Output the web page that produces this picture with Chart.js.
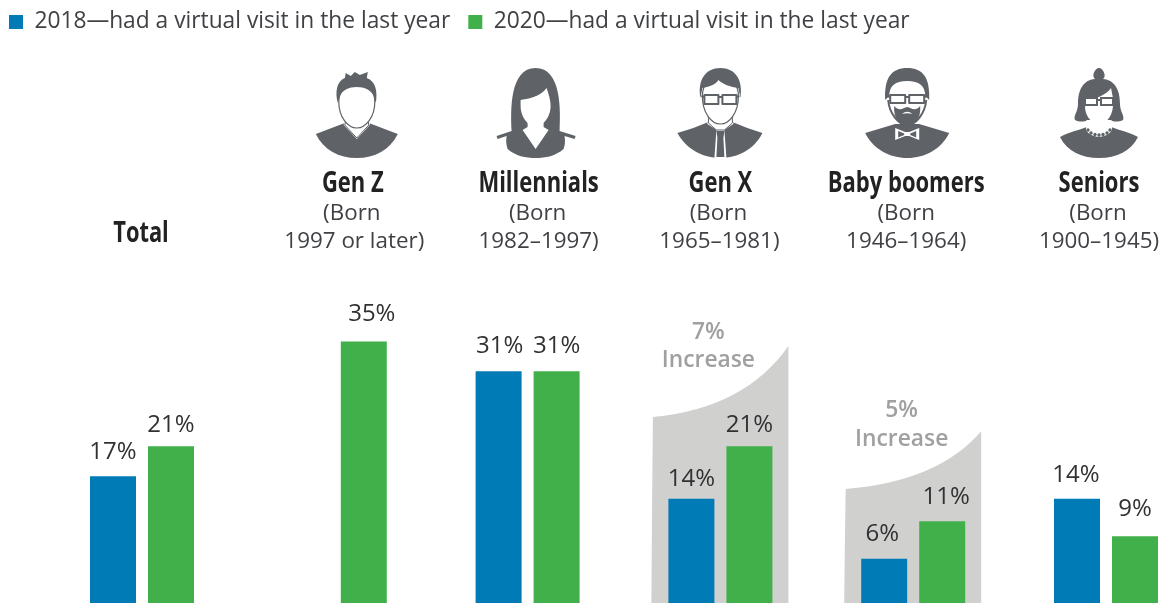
<!DOCTYPE html>
<html><head><meta charset="utf-8">
<script src="https://cdn.jsdelivr.net/npm/chart.js@4/dist/chart.umd.min.js"></script>
<style>html,body{margin:0;padding:0;background:#fff;overflow:hidden}#w{width:1163px;height:603px;overflow:hidden}canvas{display:block}</style>
</head><body><div id="w"><canvas id="c" width="1203" height="604"></canvas></div>
<script>
const categories = ['Total','Gen Z','Millennials','Gen X','Baby boomers','Seniors'];
const bornLine1 = ['', '(Born','(Born','(Born','(Born','(Born'];
const bornLine2 = ['', '1997 or later)','1982–1997)','1965–1981)','1946–1964)','1900–1945)'];
const seriesNames = ['2018—had a virtual visit in the last year','2020—had a virtual visit in the last year'];
const values2018 = [17,null,31,14,6,14];
const values2020 = [21,35,31,21,11,9];
const bandCategories = [3,4];
const bandLeftValues = [24.9,15.3];
const bandRightValues = [34.4,23];

const BLUE='#007bb6', GREEN='#41b04a', GREY='#5f6368', BAND='#d0d0cf', SUB='#3f4144', LABEL='#303133';
const OPEN='"Open Sans"';

const titleDx=[-1,18,11,0,-7,-7];
const line2Dx=[0,19.5,11,-1,-7,-7];
const line1Dx=[0,17,10,-2,-7,-8];
const iconDx=[0,22,8,0,-6,-7];
const lift=[[17,0,18,13,18,17],[14,20,18,14,17,20]];
const labelDx=[[0,0,1,0,-2,-1],[0,8,0,0,4,0]];

function P(s){return new Path2D(s);}
const SH='M-41 134 C-31 130 -22 127 -12 123 L12 123 C22 127 31 130 41 134 C33 150 18 158 0 158 C-18 158 -33 150 -41 134Z';
function fill(c,s,col){c.fillStyle=col;c.fill(P(s));}
function line(c,s,col,w){c.strokeStyle=col;c.lineWidth=w;c.lineJoin='round';c.stroke(P(s));}
function glasses(c,y,w,h){
  c.fillStyle='#fff';c.strokeStyle=GREY;c.lineWidth=2;
  c.beginPath();c.rect(-w-2,y,w,h);c.rect(2,y,w,h);c.fill();c.stroke();
  c.beginPath();c.moveTo(-2,y+2);c.lineTo(2,y+2);c.moveTo(-w-2,y+2);c.lineTo(-w-5,y+1);c.moveTo(w+2,y+2);c.lineTo(w+5,y+1);c.stroke();
}
const icons=[
 null,
 function(c){ // Gen Z
  fill(c,SH,GREY);
  fill(c,'M-13 120 L-13 125 L0 139 L13 125 L13 120Z','#fff');
  line(c,'M-11 120 L-12 125 L0 138 L12 125 L11 120',GREY,1);
  const f='M-18 102 C-18 117 -9 128 0 128 C9 128 18 117 18 102 C18 76 -18 76 -18 102Z';
  fill(c,f,'#fff');line(c,f,GREY,1.2);
  fill(c,'M-19 103 C-22 92 -20 81 -12 78 L-11 73 L-6 76 L-2 72 L3 75 L11 72 L10 78 C19 81 21 92 19 103 L17 96 C14 90 8 87 0 87 C-8 87 -14 90 -17 96Z',GREY);
 },
 function(c){ // Millennials
  fill(c,'M-39 136 L-24 131 C-25 110 -26 68 0 68 C26 68 25 110 24 131 L40 136 L39 139 L29 136 C30 142 29 146 28 149 C20 156 10 158 0 158 C-10 158 -20 156 -28 149 C-29 146 -30 142 -29 136 L-38 139Z',GREY);
  fill(c,'M-8 120 L8 120 L8 127 L13 130 L0 149 L-13 130 L-8 127Z','#fff');
  const f='M-15 100 C-9 99 5 97 11 88 C13 94 15 100 15 106 C15 118 6 127 0 127 C-6 127 -15 118 -15 106Z';
  fill(c,f,'#fff');
 },
 function(c){ // Gen X
  fill(c,'M-43 133 C-32 130 -22 126 -12 122 L12 122 C22 126 32 130 42 133 C34 149 18 158 0 158 C-18 158 -34 149 -43 133Z',GREY);
  fill(c,'M-13 118 L-13 124 L-4 130 L-6 158 L6 158 L4 130 L13 124 L13 118Z','#fff');
  fill(c,'M-4 131 L4 131 L3 138 L4 157 L-4 157 L-3 138Z',GREY);
  line(c,'M-12 116 L-12 123 L-4 130 L4 130 L12 123 L12 116',GREY,1);
  const f='M-18 96 C-18 113 -9 124 0 124 C9 124 18 113 18 96 C18 70 -18 70 -18 96Z';
  fill(c,f,'#fff');line(c,f,GREY,1.2);
  fill(c,'M-20 98 C-23 80 -15 68 0 68 C15 68 23 80 20 98 L18 88 C10 87 2 84 -2 80 C-5 85 -12 87 -18 88Z',GREY);
  glasses(c,95,14,9);
 },
 function(c){ // Baby boomers
  fill(c,'M-42 133 C-32 130 -22 127 -12 124 L12 124 C22 127 32 130 42 133 C34 149 18 158 0 158 C-18 158 -34 149 -42 133Z',GREY);
  const f='M-19 92 C-19 113 -9 124 0 124 C9 124 19 113 19 92 C19 75 -19 75 -19 92Z';
  fill(c,f,'#fff');
  fill(c,'M-22 100 C-23 78 -16 68 0 68 C16 68 23 78 22 100 L18 96 C18 86 12 81 0 81 C-12 81 -18 86 -18 96Z',GREY);
  fill(c,'M-13 106 C-8 112 -4 108 0 107 C4 108 8 112 13 106 C14 118 8 125 0 125 C-8 125 -14 118 -13 106Z',GREY);
  fill(c,'M-5 114 C-2 111 2 111 5 114 C2 113 -2 113 -5 114Z','#fff');
  line(c,'M-19 100 C-18 114 -8 125 0 125 C8 125 18 114 19 100',GREY,2);
  fill(c,'M-12 128 L-2 132 L2 132 L12 128 L12 140 L2 136 L-2 136 L-12 140Z','#fff');
  fill(c,'M-9 131 L-3 133.5 L-3 135 L-9 137.5Z',GREY);fill(c,'M9 131 L3 133.5 L3 135 L9 137.5Z',GREY);
  glasses(c,95,15,8);
 },
 function(c){ // Seniors
  fill(c,'M-39 137 C-30 132 -20 130 -12 127 L12 127 C20 130 30 132 39 137 C32 151 18 158 0 158 C-18 158 -32 151 -39 137Z',GREY);
  fill(c,'M-13 121 L-13 130 C-8 139 8 139 13 130 L13 121Z','#fff');
  fill(c,'M-4 79 C-8 76 -4 68 0 68 C4 68 8 76 4 79 C16 80 21 90 21 104 C21 112 26 116 24 120 C20 122 14 122 12 120 L-12 120 C-14 122 -20 122 -24 120 C-26 116 -21 112 -21 104 C-21 90 -16 80 -4 79Z',GREY);
  fill(c,'M-13 100 C-6 100 8 95 12 88 C13 94 15 100 14 106 C13 118 6 124 0 124 C-6 124 -13 118 -14 108Z','#fff');
  glasses(c,98,12,7);
  c.fillStyle=GREY;
  for(const d of [[-11,130],[-8,133],[-4,134.5],[0,135],[4,134.5],[8,133],[11,130]]){c.beginPath();c.arc(d[0],d[1],1.7,0,6.3);c.fill();}
 }
];

function text(c,s,x,y,font,col,sx){
  c.save();c.font=font;c.fillStyle=col;c.textAlign='center';c.textBaseline='alphabetic';
  c.translate(x,y);if(sx)c.scale(sx,1);c.fillText(s,0,0);c.restore();
}
const decor={
 id:'decor',
 afterLayout(chart){ // keep the library legend in the top-left corner of the page
  const l=chart.legend; const p=l.options.labels.padding; l.left=9-p; l.top=-7.4;
 },
 beforeDatasetsDraw(chart){
  const c=chart.ctx,x=chart.scales.x,y=chart.scales.y;
  c.save();
  bandCategories.forEach((cat,i)=>{
   const cx=x.getPixelForValue(cat),l=cx-67.5,r=cx+68,yl=y.getPixelForValue(bandLeftValues[i]),yr=y.getPixelForValue(bandRightValues[i]),yb=y.getPixelForValue(0);
   c.fillStyle=BAND;c.beginPath();c.moveTo(l-1.5,yb);c.quadraticCurveTo(l-1,(yl+yb)/2,l,yl);
   c.quadraticCurveTo(l+(r-l)*.68,yl+(yr-yl)*.127,r,yr);c.lineTo(r,yb);c.closePath();c.fill();
  });
  c.restore();
 },
 afterDatasetsDraw(chart){
  const c=chart.ctx,x=chart.scales.x;
  const mFont='24px '+OPEN, sFont='22.4px '+OPEN, tFont='bold 28px '+OPEN;
  categories.forEach((name,i)=>{
   const cx=x.getPixelForValue(i);
   if(i===0){text(c,name,cx+titleDx[i],242,tFont,'#222',.78);}
   else{
    text(c,name,cx+titleDx[i],191.5,tFont,'#222',.785);
    text(c,bornLine1[i],cx+line1Dx[i],220,sFont,SUB);
    text(c,bornLine2[i],cx+line2Dx[i],248,sFont,SUB);
    c.save();c.translate(cx+iconDx[i],0);icons[i](c);c.restore();
   }
  });
  [values2018,values2020].forEach((vals,d)=>{
   const meta=chart.getDatasetMeta(d);
   vals.forEach((v,i)=>{
    if(v==null)return;
    const b=meta.data[i];
    text(c,v+'%',b.x+labelDx[d][i],b.y-lift[d][i],mFont,LABEL);
   });
  });
  const bx=[-12,-11.5],byA=[339,417],byB=[367,446];
  bandCategories.forEach((cat,i)=>{
   const cx=x.getPixelForValue(cat);
   text(c,(values2020[cat]-values2018[cat])+'%',cx+bx[i],byA[i],'600 22.8px '+OPEN,'#a0a0a0');
   text(c,'Increase',cx+bx[i],byB[i],'600 22.8px '+OPEN,'#a0a0a0');
  });
 }
};
new Chart(document.getElementById('c'),{
 type:'bar',
 data:{labels:categories,datasets:[
  {label:seriesNames[0],data:values2018,backgroundColor:BLUE,borderWidth:0,categoryPercentage:.6017,barPercentage:.793},
  {label:seriesNames[1],data:values2020,backgroundColor:GREEN,borderWidth:0,categoryPercentage:.6017,barPercentage:.793}
 ]},
 options:{
  responsive:false,animation:false,
  layout:{padding:{left:45.6,right:0.6,top:0,bottom:0.4}},
  scales:{x:{display:false},y:{display:false,min:0,max:73.8}},
  plugins:{
   tooltip:{enabled:false},
   legend:{position:'top',align:'start',
    labels:{boxWidth:14,boxHeight:14,padding:18,color:SUB,font:{family:'Open Sans',size:22.75}}}
  }
 },
 plugins:[decor]
});
</script></body></html>
